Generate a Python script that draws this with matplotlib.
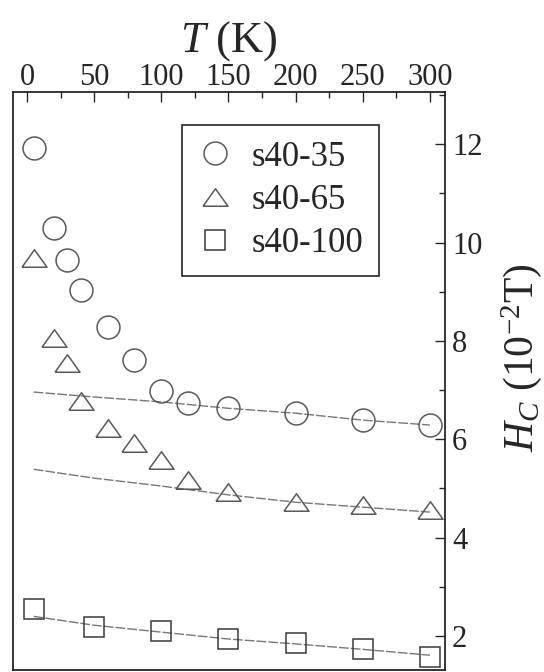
import matplotlib.pyplot as plt
from matplotlib.ticker import MultipleLocator

plt.rcParams['font.family'] = ['Liberation Serif', 'DejaVu Serif']
plt.rcParams['mathtext.fontset'] = 'custom'
plt.rcParams['mathtext.rm'] = 'Liberation Serif'
plt.rcParams['mathtext.it'] = 'Liberation Serif:italic'

# datos
T_35 = [5, 20, 30, 40, 60, 80, 100, 120, 150, 200, 250, 300]
H_35 = [11.92, 10.29, 9.64, 9.03, 8.28, 7.61, 6.98, 6.74, 6.63, 6.53, 6.39, 6.29]
T_65 = [5, 20, 30, 40, 60, 80, 100, 120, 150, 200, 250, 300]
H_65 = [9.68, 8.06, 7.55, 6.78, 6.23, 5.93, 5.58, 5.17, 4.93, 4.72, 4.67, 4.57]
T_100 = [5, 50, 100, 150, 200, 250, 300]
H_100 = [2.55, 2.18, 2.10, 1.94, 1.86, 1.74, 1.57]

# curvas de ajuste
T_fit = [5, 50, 100, 150, 200, 250, 300]
fit_35 = [6.96, 6.86, 6.76, 6.63, 6.53, 6.39, 6.29]
fit_65 = [5.39, 5.21, 5.05, 4.87, 4.72, 4.62, 4.52]
fit_100 = [2.40, 2.22, 2.08, 1.94, 1.84, 1.73, 1.61]

labels = ["s40-35", "s40-65", "s40-100"]

dark = "#262626"
grey = "#5a5a5a"
flat_tri = [(-1, -0.7), (1, -0.7), (0, 0.7), (-1, -0.7)]

fig = plt.figure(figsize=(5.44, 6.72), dpi=100)
ax = fig.add_axes([13 / 544, 2 / 672, 432 / 544, 578 / 672])

line_kw = dict(color="#777777", lw=1.0, dashes=(7, 1.5), zorder=1)
ax.plot(T_fit, fit_35, **line_kw)
ax.plot(T_fit, fit_65, **line_kw)
ax.plot(T_fit, fit_100, **line_kw)

ax.plot(T_35, H_35, ls="none", marker="o", ms=16.5, mfc="none", mec=grey,
        mew=1.1, label=labels[0])
ax.plot(T_65, H_65, ls="none", marker=flat_tri, ms=18, mfc="none", mec=grey,
        mew=1.1, label=labels[1])
ax.plot(T_100, H_100, ls="none", marker="s", ms=14.5, mfc="none", mec="#3a3a3a",
        mew=1.1, label=labels[2])

ax.set_xlim(-10.4, 311.2)
ax.set_ylim(1.31, 13.06)

ax.xaxis.tick_top()
ax.xaxis.set_label_position("top")
ax.yaxis.tick_right()
ax.yaxis.set_label_position("right")

ax.xaxis.set_major_locator(MultipleLocator(50))
ax.xaxis.set_minor_locator(MultipleLocator(25))
ax.yaxis.set_major_locator(MultipleLocator(2))
ax.yaxis.set_minor_locator(MultipleLocator(1))

ax.tick_params(axis="x", which="both", direction="in", top=True, bottom=False,
               labelsize=22, colors=dark, pad=0)
ax.tick_params(axis="y", which="both", direction="in", right=True, left=False,
               labelsize=22, colors=dark, pad=5)
ax.tick_params(which="major", length=7, width=1.0)
ax.tick_params(which="minor", length=4, width=1.0)

for s in ax.spines.values():
    s.set_color(dark)
    s.set_linewidth(1.3)

ax.set_xlabel("$T$ (K)", fontsize=32, color=dark, labelpad=8)
ax.set_ylabel("$H_C$ (10$^{-2}$T)", fontsize=30, color=dark)
ax.yaxis.set_label_coords(1.125, 0.54)

leg = ax.legend(loc="upper left", bbox_to_anchor=(0.391, 0.943), borderaxespad=0,
                fontsize=25, handlelength=1.0, handletextpad=0.55,
                labelspacing=0.3, borderpad=0.45, fancybox=False, framealpha=1)
leg.get_frame().set_edgecolor(dark)
leg.get_frame().set_linewidth(1.2)
for t in leg.get_texts():
    t.set_color(dark)

plt.savefig("out.png", dpi=100)
